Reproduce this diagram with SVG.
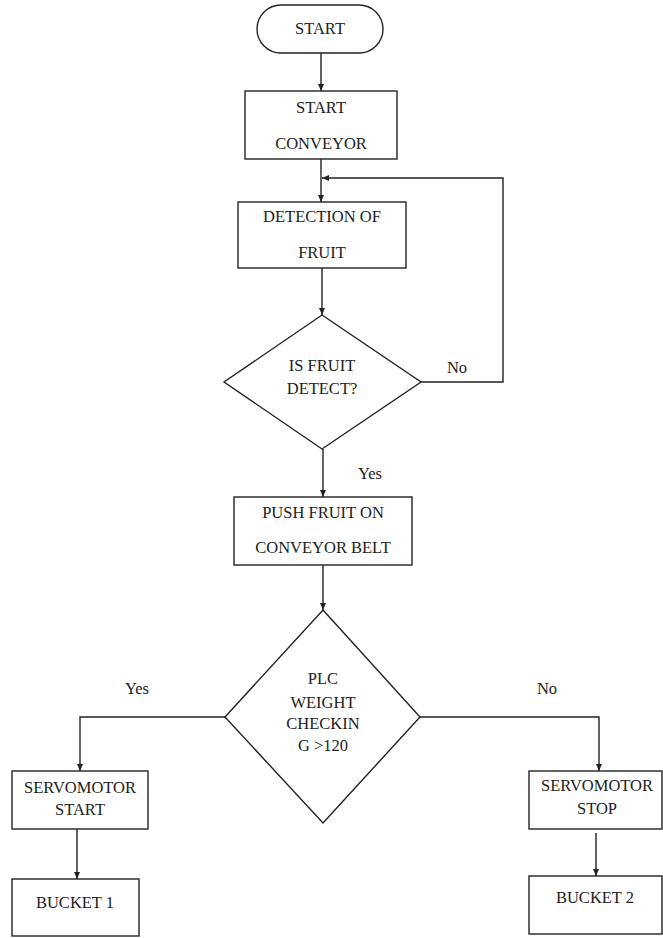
<svg xmlns="http://www.w3.org/2000/svg" width="663" height="938" viewBox="0 0 663 938">
<style>
.s{fill:#fff;stroke:#222;stroke-width:1.4}
.c{fill:none;stroke:#222;stroke-width:1.4}
text{font-family:'Liberation Serif','DejaVu Serif',serif;font-size:16.5px;fill:#222;text-anchor:middle}
</style>
<defs>
<marker id="a" markerWidth="8" markerHeight="8" refX="7" refY="4" orient="auto" markerUnits="userSpaceOnUse">
<path d="M0,1 L7,4 L0,7 Z" fill="#222"/>
</marker>
</defs>
<rect width="663" height="938" fill="#fff"/>
<g id="connectors">
<line class="c" x1="321" y1="53" x2="321" y2="91" marker-end="url(#a)"/>
<line class="c" x1="321" y1="159" x2="321" y2="202" marker-end="url(#a)"/>
<polyline class="c" points="421,382 503,382 503,178 322,178" marker-end="url(#a)"/>
<line class="c" x1="322" y1="268" x2="322" y2="315" marker-end="url(#a)"/>
<line class="c" x1="323" y1="449" x2="323" y2="497" marker-end="url(#a)"/>
<line class="c" x1="323" y1="565" x2="323" y2="610" marker-end="url(#a)"/>
<polyline class="c" points="225,717 80,717 80,771" marker-end="url(#a)"/>
<polyline class="c" points="420,717 599,717 599,771" marker-end="url(#a)"/>
<line class="c" x1="77" y1="829" x2="77" y2="879" marker-end="url(#a)"/>
<line class="c" x1="596" y1="833" x2="596" y2="876" marker-end="url(#a)"/>
<text x="457" y="373">No</text>
<text x="370" y="479">Yes</text>
<text x="137" y="694">Yes</text>
<text x="547" y="694">No</text>
</g>
<g id="start">
<rect class="s" x="257" y="5" width="126" height="48" rx="24"/>
<text x="320" y="34">START</text>
</g>
<g id="start-conveyor">
<rect class="s" x="245" y="91" width="152" height="68"/>
<text x="321" y="113">START</text>
<text x="321" y="149">CONVEYOR</text>
</g>
<g id="detection">
<rect class="s" x="238" y="202" width="168" height="66"/>
<text x="322" y="222">DETECTION OF</text>
<text x="322" y="258">FRUIT</text>
</g>
<g id="is-detect">
<polygon class="s" points="322,315 421,382 322,449 224,382"/>
<text x="322" y="371">IS FRUIT</text>
<text x="322" y="394">DETECT?</text>
</g>
<g id="push">
<rect class="s" x="234" y="497" width="178" height="68"/>
<text x="323" y="518">PUSH FRUIT ON</text>
<text x="323" y="553">CONVEYOR BELT</text>
</g>
<g id="weight-check">
<polygon class="s" points="323,610 420,717 323,823 225,717"/>
<text x="323" y="684">PLC</text>
<text x="323" y="708">WEIGHT</text>
<text x="323" y="729">CHECKIN</text>
<text x="323" y="751">G &gt;120</text>
</g>
<g id="servo-start">
<rect class="s" x="12" y="771" width="136" height="58"/>
<text x="80" y="793">SERVOMOTOR</text>
<text x="80" y="815">START</text>
</g>
<g id="servo-stop">
<rect class="s" x="529" y="771" width="133" height="58"/>
<text x="597" y="791">SERVOMOTOR</text>
<text x="597" y="814">STOP</text>
</g>
<g id="bucket1">
<rect class="s" x="12" y="879" width="127" height="57"/>
<text x="75" y="908">BUCKET 1</text>
</g>
<g id="bucket2">
<rect class="s" x="529" y="876" width="133" height="58"/>
<text x="595" y="903">BUCKET 2</text>
</g>
</svg>
